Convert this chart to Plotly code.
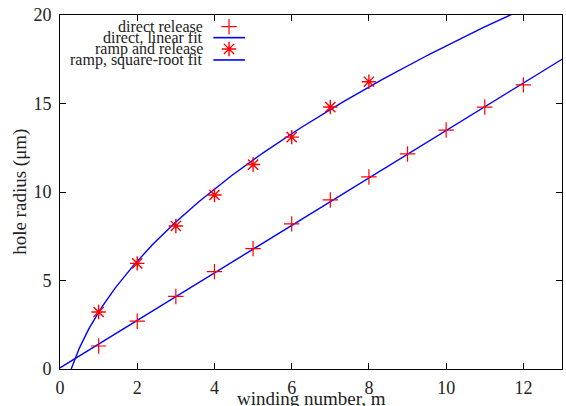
import numpy as np
import plotly.graph_objects as go

# measured hole radii (um) versus winding number
direct_m = [1, 2, 3, 4, 5, 6, 7, 8, 9, 10, 11, 12]
direct_r = [1.3, 2.7, 4.1, 5.5, 6.8, 8.2, 9.55, 10.85, 12.15, 13.5, 14.8, 16.05]
ramp_m = [1, 2, 3, 4, 5, 6, 7, 8]
ramp_r = [3.22, 5.97, 8.08, 9.83, 11.55, 13.1, 14.8, 16.23]

# fit parameters
lin_slope, lin_icpt = 1.341, 0.064          # r = a*m + b
sqrt_coef, sqrt_off = 6.96, -3.75           # r = c*sqrt(m) + d

legend_labels = ["direct release", "direct, linear fit",
                 "ramp and release", "ramp, square-root fit"]

x_ticks = [0, 2, 4, 6, 8, 10, 12]
y_ticks = [0, 5, 10, 15, 20]

RED = "#ff0000"
BLUE = "#0000ff"
FONT = "Liberation Serif"

lin_x = np.array([0.0, 13.0])
lin_y = lin_slope * lin_x + lin_icpt
m_start = (-sqrt_off / sqrt_coef) ** 2
sq_x = np.linspace(m_start, 13.0, 400)
sq_y = sqrt_coef * np.sqrt(sq_x) + sqrt_off

fig = go.Figure()
fig.add_trace(go.Scatter(x=lin_x, y=lin_y, mode="lines",
                         line=dict(color=BLUE, width=1.4)))
fig.add_trace(go.Scatter(x=sq_x, y=sq_y, mode="lines",
                         line=dict(color=BLUE, width=1.4)))
fig.add_trace(go.Scatter(x=direct_m, y=direct_r, mode="markers",
                         marker=dict(symbol="cross-thin-open", size=11, color=RED,
                                     line=dict(color=RED, width=1.2))))
fig.add_trace(go.Scatter(x=ramp_m, y=ramp_r, mode="markers",
                         marker=dict(symbol="asterisk-open", size=12, color=RED,
                                     line=dict(color=RED, width=1.4))))

# key: labels on the left, samples on the right
key_y = [0.967, 0.936, 0.904, 0.873]
key_text_x = 0.289
key_mark_x = 0.3367
key_line = [0.3054, 0.3685]
for lab, ky in zip(legend_labels, key_y):
    fig.add_annotation(x=key_text_x, y=ky, xref="paper", yref="paper",
                       text=lab, showarrow=False, xanchor="right", yanchor="middle",
                       font=dict(family=FONT, size=16, color="#222"))
fig.add_trace(go.Scatter(x=[key_mark_x], y=[key_y[0]], xaxis="x2", yaxis="y2",
                         mode="markers",
                         marker=dict(symbol="cross-thin-open", size=11, color=RED,
                                     line=dict(color=RED, width=1.2))))
fig.add_trace(go.Scatter(x=[key_mark_x], y=[key_y[2]], xaxis="x2", yaxis="y2",
                         mode="markers",
                         marker=dict(symbol="asterisk-open", size=12, color=RED,
                                     line=dict(color=RED, width=1.4))))
for ky in (key_y[1], key_y[3]):
    fig.add_trace(go.Scatter(x=key_line, y=[ky, ky], xaxis="x2", yaxis="y2",
                             mode="lines", line=dict(color=BLUE, width=1.6)))

axis_common = dict(showgrid=False, zeroline=False, showline=True, mirror="allticks",
                   linecolor="black", linewidth=1, ticks="inside", ticklen=6,
                   tickcolor="black", tickwidth=1,
                   tickfont=dict(family=FONT, size=18, color="#222"))

fig.update_layout(
    width=566, height=406,
    margin=dict(l=60, r=4, t=15, b=37),
    paper_bgcolor="white", plot_bgcolor="white",
    showlegend=False,
    xaxis=dict(range=[0, 13], tickvals=x_ticks, ticklabelstandoff=2, **axis_common),
    yaxis=dict(range=[0, 20], tickvals=y_ticks, ticklabelstandoff=4, **axis_common),
    xaxis2=dict(range=[0, 1], overlaying="x", visible=False, fixedrange=True),
    yaxis2=dict(range=[0, 1], overlaying="y", visible=False, fixedrange=True),
)

fig.add_annotation(x=-0.08, y=0.5, xref="paper", yref="paper", text="hole radius (μm)",
                   textangle=-90, showarrow=False, xanchor="center", yanchor="middle",
                   font=dict(family=FONT, size=19, color="#222"))
fig.add_annotation(x=0.5, y=-0.082, xref="paper", yref="paper", text="winding number, m",
                   showarrow=False, xanchor="center", yanchor="middle",
                   font=dict(family=FONT, size=19, color="#222"))

fig.write_html("out.html")
